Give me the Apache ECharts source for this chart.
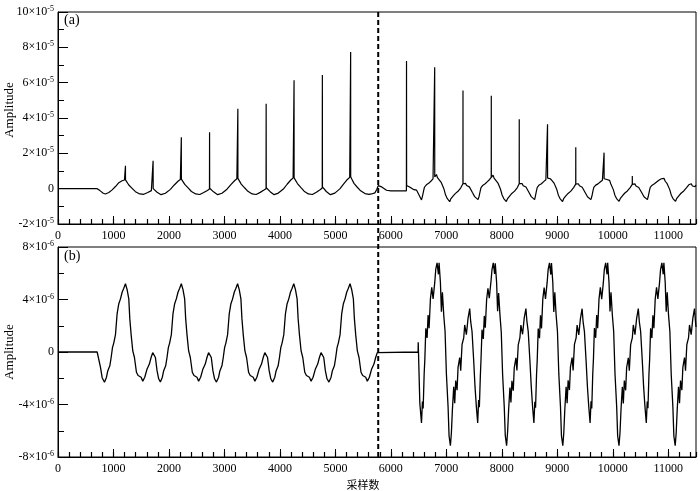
<!DOCTYPE html>
<html><head><meta charset="utf-8">
<script src="https://cdn.jsdelivr.net/npm/echarts@6/dist/echarts.min.js"></script>
<style>html,body{margin:0;padding:0;background:#fff}#c{width:700px;height:491px}</style>
</head><body><div id="c"></div>
<script>
// ---------- DATA ----------
// Panel (a): amplitude in units of 1e-5, [sample, value]
const ampA_first = [
[0,0],[706,0],[756,-0.11],[816,-0.26],[856,-0.30],[916,-0.22],[976,-0.07],[1036,0.12],[1096,0.34],[1156,0.45],[1198,0.49],[1215,0.50],[1216,1.30],[1217,0.50],[1234,0.40],[1276,0.21],[1336,0.02],[1396,-0.17],[1474,-0.30],[1546,-0.32],[1618,-0.22],[1683,-0.11],[1712,-0.03],[1714,1.58],[1716,0.0],[1738,0.05],[1786,-0.20],[1858,-0.34],
[1936,-0.26],[2026,-0.04],[2096,0.21],[2163,0.42],[2205,0.52],[2222,0.54],[2223,2.91],[2224,0.54],[2242,0.44],[2285,0.24],[2345,0.04],[2405,-0.16],[2482,-0.30],[2555,-0.33],[2627,-0.22],[2693,-0.10],[2730,-0.02],[2732,3.19],[2734,0.02],[2756,0.07],[2804,-0.18],[2878,-0.34],
[2956,-0.26],[3046,-0.03],[3116,0.23],[3182,0.45],[3224,0.56],[3241,0.58],[3242,4.53],[3243,0.58],[3261,0.47],[3303,0.26],[3363,0.05],[3423,-0.15],[3500,-0.30],[3572,-0.33],[3645,-0.21],[3712,-0.08],[3750,0.0],[3752,4.81],[3754,0.05],[3776,0.09],[3824,-0.17],[3895,-0.34],
[3972,-0.25],[4062,-0.02],[4130,0.25],[4196,0.49],[4238,0.60],[4254,0.63],[4255,6.13],[4256,0.63],[4274,0.51],[4316,0.29],[4376,0.07],[4436,-0.14],[4513,-0.30],[4585,-0.33],[4657,-0.20],[4724,-0.06],[4763,0.04],[4765,6.43],[4767,0.10],[4788,0.12],[4836,-0.16],[4910,-0.34],
[4990,-0.25],[5080,-0.01],[5150,0.27],[5216,0.52],[5258,0.64],[5274,0.68],[5275,7.74],[5276,0.68],[5293,0.56],[5335,0.30],[5395,0.08],[5455,-0.12],[5533,-0.28],[5605,-0.32],[5650,-0.30],[5712,-0.24],[5745,-0.05],[5772,0.17]
];
const ampA_second = [
[5802,0.20],[5835,0.10],[5862,0.02],[5922,-0.09],[6000,-0.12],[6042,-0.13],[6150,-0.13],[6280,-0.12],[6282,7.23],[6284,0.17],[6294,0.17],[6330,0.11],[6402,-0.04],[6462,-0.08],[6510,-0.37],[6552,-0.64],
[6570,-0.42],[6590,-0.12],[6605,0.08],[6620,-0.02],[6640,0.22],[6660,0.12],[6680,0.30],[6700,0.22],[6720,0.42],[6740,0.34],[6760,0.55],[6780,0.50],[6789,0.66],[6790,6.87],[6791,0.66],[6805,0.72],[6822,0.80],[6840,0.62],[6855,0.70],[6875,0.48],[6890,0.55],[6910,0.34],[6930,0.36],[6955,0.0],[6985,-0.35],[7015,-0.55],[7040,-0.62],[7061,-0.74],[7080,-0.58],[7100,-0.62],[7120,-0.42],[7140,-0.48],[7160,-0.28],[7180,-0.33],[7210,-0.15],[7235,-0.20],[7260,0.05],[7280,0.10],[7299,0.28],[7300,5.55],[7301,0.28],[7320,0.22],[7345,0.30],[7365,0.18],[7390,0.24],[7415,0.10],[7440,0.0],[7470,-0.22],[7510,-0.45],[7540,-0.52],[7571,-0.62],
[7590,-0.44],[7610,-0.14],[7625,0.06],[7640,-0.04],[7660,0.20],[7680,0.10],[7700,0.28],[7720,0.20],[7740,0.40],[7760,0.33],[7780,0.52],[7800,0.48],[7809,0.64],[7810,5.26],[7811,0.64],[7825,0.70],[7842,0.76],[7860,0.60],[7875,0.66],[7895,0.46],[7910,0.52],[7930,0.32],[7950,0.34],[7975,-0.02],[8005,-0.36],[8035,-0.56],[8060,-0.62],[8081,-0.73],[8100,-0.58],[8120,-0.62],[8140,-0.42],[8160,-0.47],[8180,-0.27],[8200,-0.32],[8230,-0.14],[8255,-0.18],[8280,0.06],[8300,0.10],[8313,0.28],[8314,3.93],[8315,0.28],[8340,0.22],[8365,0.29],[8385,0.17],[8410,0.23],[8435,0.09],[8460,-0.01],[8490,-0.22],[8530,-0.45],[8560,-0.53],[8591,-0.62],
[8604,-0.43],[8624,-0.13],[8639,0.07],[8654,-0.03],[8674,0.21],[8694,0.11],[8714,0.28],[8734,0.21],[8754,0.40],[8774,0.32],[8794,0.50],[8814,0.47],[8823,0.60],[8824,3.64],[8825,0.60],[8839,0.66],[8856,0.70],[8874,0.56],[8889,0.62],[8909,0.44],[8924,0.50],[8944,0.30],[8964,0.32],[8989,-0.03],[9019,-0.37],[9049,-0.56],[9074,-0.63],[9095,-0.73],[9114,-0.57],[9134,-0.61],[9154,-0.41],[9174,-0.46],[9194,-0.27],[9214,-0.31],[9244,-0.14],[9269,-0.18],[9294,0.06],[9314,0.11],[9332,0.26],[9333,2.34],[9334,0.26],[9354,0.21],[9379,0.28],[9399,0.16],[9424,0.22],[9449,0.08],[9474,-0.02],[9504,-0.23],[9544,-0.46],[9574,-0.53],[9605,-0.62],
[9623,-0.43],[9643,-0.13],[9658,0.07],[9673,-0.03],[9693,0.20],[9713,0.10],[9733,0.27],[9753,0.20],[9773,0.38],[9793,0.31],[9813,0.48],[9833,0.45],[9842,0.56],[9843,2.04],[9844,0.56],[9858,0.62],[9875,0.64],[9893,0.52],[9908,0.58],[9928,0.42],[9943,0.47],[9963,0.28],[9983,0.30],[10008,-0.04],[10038,-0.37],[10068,-0.56],[10093,-0.63],[10114,-0.72],[10133,-0.57],[10153,-0.61],[10173,-0.41],[10193,-0.46],[10213,-0.26],[10233,-0.31],[10263,-0.13],[10288,-0.17],[10313,0.06],[10333,0.11],[10351,0.24],[10352,0.72],[10353,0.24],[10373,0.20],[10398,0.27],[10418,0.15],[10443,0.21],[10468,0.07],[10493,-0.03],[10523,-0.23],[10563,-0.46],[10593,-0.53],[10624,-0.62],
[10640,-0.43],[10660,-0.13],[10675,0.07],[10690,-0.03],[10710,0.20],[10730,0.11],[10750,0.28],[10770,0.21],[10790,0.38],[10810,0.33],[10830,0.48],[10850,0.46],[10875,0.56],[10892,0.62],[10910,0.52],[10925,0.58],[10945,0.42],[10960,0.47],[10980,0.28],[11000,0.30],[11025,-0.04],[11055,-0.37],[11085,-0.56],[11110,-0.63],[11131,-0.72],[11150,-0.57],[11170,-0.61],[11190,-0.41],[11210,-0.46],[11230,-0.26],[11250,-0.31],[11280,-0.13],[11305,-0.17],[11330,0.06],[11350,0.11],[11370,0.22],[11390,0.18],[11415,0.28],[11435,0.15],[11460,0.22],[11485,0.12],[11500,0.20]
];
// Panel (b): amplitude in units of 1e-6, [sample, value]
const ampB_first = [
[0,0],[706,0],[766,-1.17],[796,-1.96],[838,-2.31],[874,-1.92],[898,-1.42],[934,-1.05],[958,-0.42],[982,0.33],[1006,0.70],[1036,1.32],[1066,2.93],[1096,3.68],[1126,4.05],[1156,4.55],[1186,4.85],[1216,5.20],[1246,4.75],[1276,4.05],[1294,2.56],[1318,1.32],[1348,0.08],[1378,-0.42],[1414,-1.54],[1444,-1.79],[1474,-1.92],[1498,-1.92],[1528,-2.22],[1564,-1.92],[1606,-1.29],[1647,-0.92],[1678,-0.42],[1707,-0.05],[1725,0],[1756,-0.42],[1785,-1.42],[1815,-2.04],[1845,-2.29],
[1881,-1.92],[1905,-1.42],[1941,-1.05],[1965,-0.42],[1989,0.33],[2013,0.70],[2043,1.32],[2073,2.93],[2103,3.68],[2133,4.05],[2163,4.55],[2193,4.85],[2223,5.20],[2253,4.75],[2283,4.05],[2301,2.56],[2325,1.32],[2355,0.08],[2385,-0.42],[2421,-1.54],[2451,-1.79],[2481,-1.92],[2505,-1.92],[2535,-2.22],[2571,-1.92],[2613,-1.29],[2654,-0.92],[2685,-0.42],[2714,-0.05],[2732,0.0],[2763,-0.42],[2792,-1.42],[2822,-2.04],[2856,-2.29],
[2895,-1.92],[2919,-1.42],[2955,-1.05],[2979,-0.42],[3003,0.33],[3027,0.70],[3057,1.32],[3087,2.93],[3117,3.68],[3147,4.05],[3177,4.55],[3207,4.85],[3237,5.20],[3267,4.75],[3297,4.05],[3315,2.56],[3339,1.32],[3369,0.08],[3399,-0.42],[3435,-1.54],[3465,-1.79],[3495,-1.92],[3519,-1.92],[3549,-2.22],[3585,-1.92],[3627,-1.29],[3668,-0.92],[3699,-0.42],[3728,-0.05],[3746,0.0],[3777,-0.42],[3806,-1.42],[3836,-2.04],[3870,-2.29],
[3908,-1.92],[3932,-1.42],[3968,-1.05],[3992,-0.42],[4016,0.33],[4040,0.70],[4070,1.32],[4100,2.93],[4130,3.68],[4160,4.05],[4190,4.55],[4220,4.85],[4250,5.20],[4280,4.75],[4310,4.05],[4328,2.56],[4352,1.32],[4382,0.08],[4412,-0.42],[4448,-1.54],[4478,-1.79],[4508,-1.92],[4532,-1.92],[4562,-2.22],[4598,-1.92],[4640,-1.29],[4681,-0.92],[4712,-0.42],[4741,-0.05],[4759,0.0],[4790,-0.42],[4819,-1.42],[4849,-2.04],[4884,-2.29],
[4922,-1.92],[4946,-1.42],[4982,-1.05],[5006,-0.42],[5030,0.33],[5054,0.70],[5084,1.32],[5114,2.93],[5144,3.68],[5174,4.05],[5204,4.55],[5234,4.85],[5264,5.20],[5294,4.75],[5324,4.05],[5342,2.56],[5366,1.32],[5396,0.08],[5426,-0.42],[5462,-1.54],[5492,-1.79],[5522,-1.92],[5546,-1.92],[5576,-2.22],[5612,-1.92],[5654,-1.29],[5695,-0.92],[5726,-0.42],[5755,-0.05],[5772,0.0]
];
const ampB_second = [
[6491,0],[6493,0.74],[6522,-3.91],
[6552,-5.40],[6569,-3.78],[6582,-4.30],[6600,-1.67],[6612,-0.60],[6630,1.81],[6653,1.07],[6671,2.81],[6689,1.81],[6713,4.05],[6737,4.92],[6761,4.05],[6791,5.30],[6809,6.29],[6833,6.79],[6857,5.92],[6869,6.79],[6893,5.30],[6911,3.06],[6929,4.55],[6953,2.81],[6977,1.56],[7001,-1.67],[7031,-4.16],[7049,-6.40],[7073,-7.14],[7091,-6.15],[7109,-4.41],[7133,-2.66],[7151,-3.91],[7169,-2.17],[7193,-2.91],[7211,-1.17],[7241,-0.43],[7259,-1.42],[7283,0.57],[7313,1.07],[7331,2.06],[7361,1.32],[7391,2.56],[7421,3.31],[7439,2.31],[7463,1.56],[7493,-0.67],[7517,-2.66],[7541,-4.16],
[7565,-5.40],[7582,-3.66],[7595,-4.20],[7613,-1.80],[7625,-0.55],[7643,1.70],[7666,1.00],[7684,2.75],[7702,1.85],[7726,4.00],[7750,4.85],[7774,4.10],[7804,5.35],[7822,6.25],[7846,6.80],[7870,5.95],[7882,6.75],[7906,5.30],[7924,3.10],[7942,4.50],[7966,2.85],[7990,1.50],[8014,-1.70],[8044,-4.20],[8062,-6.35],[8086,-7.14],[8104,-6.10],[8122,-4.45],[8146,-2.70],[8164,-3.85],[8182,-2.20],[8206,-2.95],[8224,-1.20],[8254,-0.45],[8272,-1.40],[8296,0.55],[8326,1.10],[8344,2.05],[8374,1.35],[8404,2.60],[8434,3.31],[8452,2.35],[8476,1.55],[8506,-0.65],[8530,-2.60],[8554,-4.15],
[8578,-5.40],[8595,-3.80],[8608,-4.25],[8626,-1.70],[8638,-0.62],[8656,1.78],[8679,1.05],[8697,2.80],[8715,1.80],[8739,4.05],[8763,4.90],[8787,4.05],[8817,5.30],[8835,6.28],[8859,6.79],[8883,5.90],[8895,6.78],[8919,5.28],[8937,3.05],[8955,4.55],[8979,2.80],[9003,1.55],[9027,-1.65],[9057,-4.15],[9075,-6.40],[9099,-7.14],[9117,-6.15],[9135,-4.40],[9159,-2.65],[9177,-3.90],[9195,-2.15],[9219,-2.90],[9237,-1.15],[9267,-0.42],[9285,-1.40],[9309,0.58],[9339,1.08],[9357,2.05],[9387,1.30],[9417,2.55],[9447,3.30],[9465,2.30],[9489,1.55],[9519,-0.68],[9543,-2.65],[9567,-4.15],
[9591,-5.40],[9608,-3.75],[9621,-4.30],[9639,-1.65],[9651,-0.58],[9669,1.82],[9692,1.08],[9710,2.82],[9728,1.82],[9752,4.05],[9776,4.92],[9800,4.02],[9830,5.30],[9848,6.30],[9872,6.79],[9896,5.92],[9908,6.79],[9932,5.30],[9950,3.08],[9968,4.55],[9992,2.82],[10016,1.58],[10040,-1.66],[10070,-4.15],[10088,-6.40],[10112,-7.14],[10130,-6.15],[10148,-4.42],[10172,-2.66],[10190,-3.92],[10208,-2.18],[10232,-2.92],[10250,-1.18],[10280,-0.44],[10298,-1.42],[10322,0.56],[10352,1.07],[10370,2.06],[10400,1.32],[10430,2.56],[10460,3.31],[10478,2.32],[10502,1.56],[10532,-0.67],[10556,-2.66],[10580,-4.16],
[10604,-5.40],[10621,-3.78],[10634,-4.28],[10652,-1.68],[10664,-0.60],[10682,1.80],[10705,1.06],[10723,2.80],[10741,1.82],[10765,4.04],[10789,4.92],[10813,4.05],[10843,5.30],[10861,6.28],[10885,6.79],[10909,5.92],[10921,6.79],[10945,5.30],[10963,3.06],[10981,4.55],[11005,2.81],[11029,1.56],[11053,-1.67],[11083,-4.16],[11101,-6.40],[11125,-7.14],[11143,-6.15],[11161,-4.41],[11185,-2.66],[11203,-3.91],[11221,-2.17],[11245,-2.91],[11263,-1.17],[11293,-0.43],[11311,-1.42],[11335,0.57],[11365,1.07],[11383,2.06],[11413,1.32],[11443,2.56],[11473,3.31],[11491,2.31],[11500,1.90]
];
const expA = -5;             // y tick labels of (a): k×10^-5
const expB = -6;             // y tick labels of (b): k×10^-6
const dashX = 5772;          // dashed divider sample
const panelNames = ['(a)', '(b)'];
const yName = 'Amplitude';
const xName = '采样数';

// ---------- CHART ----------
const FONT = '"Liberation Serif","Times New Roman",serif';
const chart = echarts.init(document.getElementById('c'), null, {renderer: 'canvas'});
function supFmt(exp) {
  return function (v) {
    if (Math.abs(v) < 1e-9) return '{b|0}';
    return '{b|' + v + '×10}{s|' + exp + '}';
  };
}
const rich = {
  b: {fontSize: 12, fontFamily: FONT, color: '#000', lineHeight: 14},
  s: {fontSize: 8, fontFamily: FONT, color: '#000', verticalAlign: 'top', lineHeight: 8}
};
const black = {color: '#000', width: 1};
function mainX(grid, name) {
  return {
    type: 'value', gridIndex: grid, min: 0, max: 11500, interval: 1000, position: 'bottom',
    axisLine: {show: true, onZero: false, lineStyle: black},
    axisTick: {show: true, inside: true, length: 8, lineStyle: black},
    axisLabel: {show: true, color: '#000', fontFamily: FONT, fontSize: 12, margin: 6, showMaxLabel: false,
                formatter: function (v) { return String(v); }},
    splitLine: {show: false},
    name: name || '', nameLocation: 'middle', nameGap: 22,
    nameTextStyle: {fontFamily: '"Noto Sans CJK SC", sans-serif', fontSize: 11, color: '#000', padding: [0, 28, 0, 0]}
  };
}
function minorX(grid) {
  return {
    type: 'value', gridIndex: grid, min: 0, max: 11500, interval: 200, position: 'bottom',
    axisLine: {show: false, onZero: false},
    axisTick: {show: true, inside: true, length: 5, lineStyle: {color: '#000', width: 1.2}},
    axisLabel: {show: false}, splitLine: {show: false}
  };
}
function yAx(grid, min, max, interval, exp) {
  return {
    type: 'value', gridIndex: grid, min: min, max: max, interval: interval,
    axisLine: {show: true, onZero: false, lineStyle: black},
    axisTick: {show: true, inside: true, length: 10, lineStyle: black},
    minorTick: {show: true, splitNumber: 2, length: 6, lineStyle: black},
    axisLabel: {show: true, margin: 4, formatter: supFmt(exp), rich: rich},
    splitLine: {show: false}
  };
}
chart.setOption({
  animation: false,
  backgroundColor: '#fff',
  grid: [
    {left: 58, top: 12, width: 638, height: 212, show: true, borderColor: '#000', borderWidth: 1, backgroundColor: 'transparent'},
    {left: 58, top: 247, width: 638, height: 214, show: true, borderColor: '#000', borderWidth: 1, backgroundColor: 'transparent'}
  ],
  xAxis: [mainX(0), minorX(0), mainX(1, xName), minorX(1)],
  yAxis: [yAx(0, -2, 10, 2, expA), yAx(1, -8, 8, 4, expB)],
  series: [
    {type: 'line', xAxisIndex: 0, yAxisIndex: 0, data: ampA_first.concat(ampA_second), showSymbol: false, symbol: 'none',
     lineStyle: {color: '#000', width: 1.2}, silent: true},
    {type: 'line', xAxisIndex: 2, yAxisIndex: 1, data: ampB_first.concat(ampB_second), showSymbol: false, symbol: 'none',
     lineStyle: {color: '#000', width: 1.3}, silent: true}
  ]
});
const px = chart.convertToPixel({xAxisIndex: 0}, dashX);
const yTop = chart.convertToPixel({yAxisIndex: 0}, 10);
const yBot = chart.convertToPixel({yAxisIndex: 1}, -8);
const aMid = chart.convertToPixel({yAxisIndex: 0}, 4);
const bMid = chart.convertToPixel({yAxisIndex: 1}, 0);
chart.setOption({
  graphic: [
    {type: 'line', silent: true, z: 10, shape: {x1: px, y1: yTop, x2: px, y2: yBot},
     style: {stroke: '#000', lineWidth: 2, lineDash: [5, 3]}},
    {type: 'text', left: 64, top: 13, style: {text: panelNames[0], font: '14px ' + FONT, fill: '#000'}},
    {type: 'text', left: 64, top: 249, style: {text: panelNames[1], font: '14px ' + FONT, fill: '#000'}},
    {type: 'text', x: 10, y: aMid - 8, rotation: Math.PI / 2,
     style: {text: yName, font: '13px ' + FONT, fill: '#000', align: 'center', verticalAlign: 'middle'}},
    {type: 'text', x: 10, y: bMid, rotation: Math.PI / 2,
     style: {text: yName, font: '13px ' + FONT, fill: '#000', align: 'center', verticalAlign: 'middle'}}
  ]
});
</script>
</body></html>
